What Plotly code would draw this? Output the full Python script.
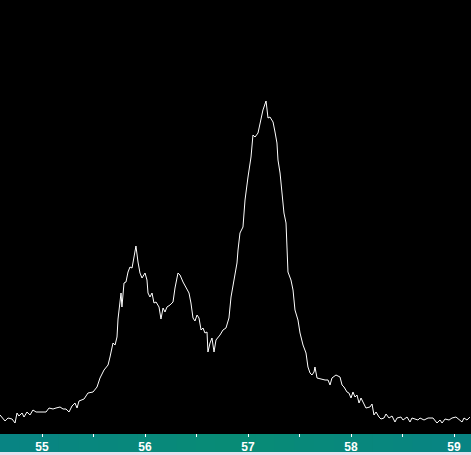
import plotly.graph_objects as go

# Spectrum
mass = [54.592, 54.641, 54.670, 54.709, 54.738, 54.757, 54.776, 54.806, 54.825, 54.854,
        54.883, 54.912, 54.942, 54.980, 55.039, 55.068, 55.107, 55.136, 55.175, 55.204,
        55.233, 55.262, 55.291, 55.320, 55.340, 55.359, 55.408, 55.446, 55.495, 55.534,
        55.563, 55.602, 55.641, 55.660, 55.689, 55.709, 55.728, 55.738, 55.757, 55.767,
        55.776, 55.796, 55.815, 55.835, 55.854, 55.874, 55.893, 55.912, 55.932, 55.951,
        55.971, 56.000, 56.019, 56.029, 56.048, 56.068, 56.087, 56.107, 56.136, 56.155,
        56.175, 56.194, 56.213, 56.243, 56.272, 56.291, 56.320, 56.340, 56.369, 56.398,
        56.427, 56.446, 56.466, 56.485, 56.505, 56.524, 56.544, 56.563, 56.582, 56.602,
        56.611, 56.631, 56.650, 56.670, 56.689, 56.728, 56.757, 56.786, 56.815, 56.835,
        56.864, 56.893, 56.903, 56.922, 56.951, 56.971, 57.000, 57.029, 57.048, 57.068,
        57.097, 57.116, 57.145, 57.175, 57.194, 57.213, 57.243, 57.262, 57.281, 57.291,
        57.311, 57.330, 57.349, 57.369, 57.378, 57.388, 57.417, 57.437, 57.456, 57.485,
        57.505, 57.534, 57.563, 57.582, 57.602, 57.621, 57.641, 57.650, 57.670, 57.699,
        57.748, 57.777, 57.796, 57.815, 57.854, 57.893, 57.913, 57.932, 57.961, 57.980,
        58.000, 58.019, 58.039, 58.058, 58.078, 58.097, 58.126, 58.145, 58.184, 58.204,
        58.223, 58.243, 58.272, 58.291, 58.320, 58.340, 58.369, 58.398, 58.427, 58.447,
        58.485, 58.505, 58.544, 58.573, 58.592, 58.621, 58.650, 58.670, 58.709, 58.748,
        58.796, 58.835, 58.864, 58.884, 58.913, 58.952, 58.981, 59.019, 59.049, 59.078,
        59.097, 59.126, 59.155]

intensity = [18, 12, 15, 14, 10, 20, 17, 20, 16, 21,
             18, 23, 21, 21, 21, 25, 24, 25, 26, 24,
             24, 21, 27, 30, 25, 32, 34, 40, 41, 46,
             55, 63, 68, 76, 90, 88, 96, 114, 136, 140,
             126, 150, 151, 161, 166, 165, 176, 187, 171, 160,
             155, 160, 153, 140, 136, 140, 130, 131, 126, 114,
             125, 121, 126, 128, 131, 145, 160, 158, 151, 145,
             140, 130, 115, 112, 118, 115, 103, 105, 100, 101,
             81, 90, 95, 81, 93, 98, 103, 105, 115, 136,
             153, 170, 183, 200, 206, 233, 256, 276, 298, 296,
             300, 310, 323, 332, 315, 316, 311, 301, 290, 273,
             260, 240, 220, 210, 190, 161, 153, 143, 123, 113,
             100, 88, 80, 66, 60, 58, 61, 66, 55, 54,
             53, 53, 48, 55, 58, 56, 48, 46, 41, 40,
             35, 41, 36, 38, 30, 35, 28, 25, 26, 29,
             18, 21, 16, 14, 15, 19, 15, 17, 11, 15,
             16, 13, 16, 11, 15, 14, 13, 15, 13, 15,
             15, 10, 13, 10, 14, 13, 15, 16, 13, 11,
             15, 13, 16]

tick_values = [55, 56, 57, 58, 59]
tick_labels = ["55", "56", "57", "58", "59"]

fig = go.Figure(go.Scatter(x=mass, y=intensity, mode="lines",
                           line=dict(color="white", width=1), hoverinfo="skip"))

# teal axis bar below the plot, slightly greener in the middle
bar_top, bar_bot = -1 / 433, -19 / 433
n = 24
for i in range(n):
    t = abs((i + 0.5) / n - 0.5) * 2
    g = int(140 - 8 * t)
    b = int(118 + 14 * t)
    fig.add_shape(type="rect", xref="paper", yref="paper", layer="below",
                  x0=i / n, x1=(i + 1) / n + 0.002, y0=bar_bot, y1=bar_top,
                  fillcolor=f"rgb(8,{g},{b})", line_width=0)
fig.add_shape(type="rect", xref="paper", yref="paper", layer="below",
              x0=0, x1=1, y0=-22 / 433, y1=bar_bot,
              fillcolor="#e6e0ee", line_width=0)

fig.update_layout(width=471, height=455, margin=dict(l=0, r=0, t=0, b=22),
                  paper_bgcolor="black", plot_bgcolor="black", showlegend=False)
fig.update_xaxes(range=[54.592, 59.165], tickvals=tick_values, ticktext=tick_labels,
                 ticks="outside", ticklen=3, tickcolor="white", tickwidth=1,
                 minor=dict(dtick=0.5, tick0=55, ticks="outside", ticklen=3, tickcolor="white"),
                 tickfont=dict(family="Liberation Sans", size=12, color="white", weight="bold"),
                 showgrid=False, zeroline=False, showline=False, fixedrange=True)
fig.update_yaxes(range=[0, 433], visible=False, fixedrange=True)

fig.write_html("out.html", config={"displayModeBar": False},
               post_script="document.body.style.margin='0';")
